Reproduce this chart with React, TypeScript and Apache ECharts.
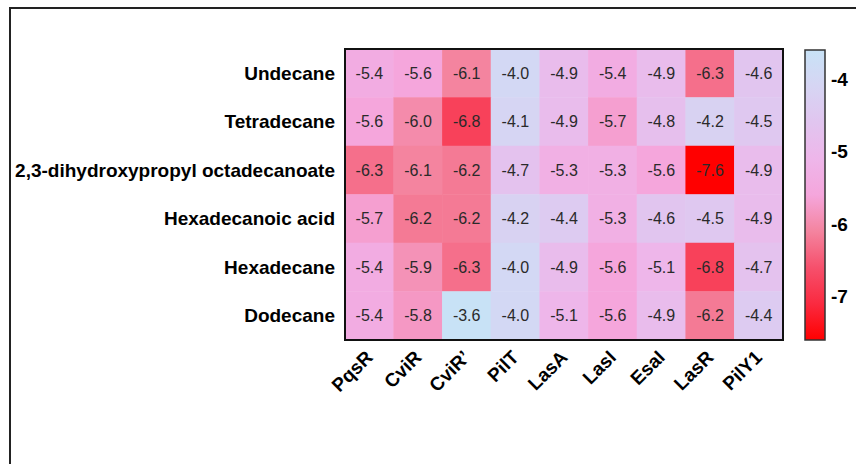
import React, { useEffect, useRef } from "react";
import * as echarts from "echarts";

const receptors = ["PqsR", "CviR", "CviR\u2019", "PilT", "LasA", "LasI", "EsaI", "LasR", "PilY1"];
const compounds = [
  "Undecane",
  "Tetradecane",
  "2,3-dihydroxypropyl octadecanoate",
  "Hexadecanoic acid",
  "Hexadecane",
  "Dodecane",
];

// Docking scores (kcal/mol), one row per compound, one column per receptor
const undecane = [-5.4, -5.6, -6.1, -4.0, -4.9, -5.4, -4.9, -6.3, -4.6];
const tetradecane = [-5.6, -6.0, -6.8, -4.1, -4.9, -5.7, -4.8, -4.2, -4.5];
const dihydroxypropylOctadecanoate = [-6.3, -6.1, -6.2, -4.7, -5.3, -5.3, -5.6, -7.6, -4.9];
const hexadecanoicAcid = [-5.7, -6.2, -6.2, -4.2, -4.4, -5.3, -4.6, -4.5, -4.9];
const hexadecane = [-5.4, -5.9, -6.3, -4.0, -4.9, -5.6, -5.1, -6.8, -4.7];
const dodecane = [-5.4, -5.8, -3.6, -4.0, -5.1, -5.6, -4.9, -6.2, -4.4];

const scoreRows = [undecane, tetradecane, dihydroxypropylOctadecanoate, hexadecanoicAcid, hexadecane, dodecane];

const scaleMin = -7.6;
const scaleMax = -3.6;
const scaleTicks = [-4, -5, -6, -7];

// Colour ramp from the lowest (strongest) score to the highest
const rampColors = [
  "#ff0000",
  "#fa2a40",
  "#f6506c",
  "#f4849f",
  "#f5a6dc",
  "#eeb6ea",
  "#e1c5ef",
  "#d6d5f3",
  "#c8e2f6",
];

const FONT = "'Liberation Sans', Arial, sans-serif";

export default function App() {
  const ref = useRef<HTMLDivElement>(null);

  useEffect(() => {
    if (!ref.current) return;
    const chart = echarts.init(ref.current, undefined, { renderer: "svg" });

    const cells: number[][] = [];
    scoreRows.forEach((row, r) => {
      row.forEach((v, c) => cells.push([c, r, v]));
    });

    const gradientStops = rampColors
      .slice()
      .reverse()
      .map((color, i) => ({ offset: i / (rampColors.length - 1), color }));

    chart.setOption({
      animation: false,
      backgroundColor: "#ffffff",
      textStyle: { fontFamily: FONT },
      graphic: [
        {
          type: "rect",
          z: -10,
          shape: { x: 10, y: 8, width: 900, height: 520 },
          style: { fill: "none", stroke: "#222", lineWidth: 2 },
        },
      ],
      grid: [
        {
          left: 345,
          top: 49,
          width: 438,
          height: 291,
          show: true,
          z: 5,
          borderColor: "#111",
          borderWidth: 2,
          backgroundColor: "transparent",
        },
        {
          left: 805,
          top: 50,
          width: 20,
          height: 290,
          show: true,
          z: 5,
          borderColor: "#333",
          borderWidth: 1.5,
          backgroundColor: "transparent",
        },
      ],
      xAxis: [
        {
          type: "category",
          gridIndex: 0,
          data: receptors,
          axisLine: { show: false },
          axisTick: { show: false },
          splitLine: { show: false },
          axisLabel: {
            rotate: 45,
            margin: 14,
            padding: [0, 0, 0, 0],
            fontSize: 19,
            fontWeight: "bold",
            color: "#000",
            fontFamily: FONT,
          },
        },
        {
          type: "value",
          gridIndex: 1,
          min: 0,
          max: 1,
          show: false,
        },
      ],
      yAxis: [
        {
          type: "category",
          gridIndex: 0,
          data: compounds,
          inverse: true,
          axisLine: { show: false },
          axisTick: { show: false },
          splitLine: { show: false },
          axisLabel: {
            margin: 10,
            fontSize: 19,
            fontWeight: "bold",
            color: "#000",
            fontFamily: FONT,
          },
        },
        {
          type: "value",
          gridIndex: 1,
          position: "right",
          min: scaleMin,
          max: scaleMax,
          axisLine: { show: false },
          splitLine: { show: false },
          axisTick: {
            show: true,
            inside: false,
            length: 4,
            customValues: scaleTicks,
            lineStyle: { color: "#333", width: 1.5 },
          },
          axisLabel: {
            show: true,
            margin: 6,
            fontSize: 19,
            fontWeight: "bold",
            color: "#000",
            fontFamily: FONT,
            customValues: scaleTicks,
            formatter: (v: number) => String(v),
          },
        },
        {
          type: "value",
          gridIndex: 1,
          position: "left",
          min: scaleMin,
          max: scaleMax,
          axisLine: { show: false },
          splitLine: { show: false },
          axisLabel: { show: false },
          axisTick: {
            show: true,
            inside: true,
            length: 4,
            customValues: scaleTicks,
            lineStyle: { color: "#333", width: 1.5 },
          },
        },
      ],
      visualMap: {
        show: false,
        type: "continuous",
        min: scaleMin,
        max: scaleMax,
        seriesIndex: 0,
        dimension: 2,
        inRange: { color: rampColors },
      },
      series: [
        {
          type: "heatmap",
          xAxisIndex: 0,
          yAxisIndex: 0,
          data: cells,
          z: 1,
          label: {
            show: true,
            color: "#2a2a2a",
            fontSize: 16,
            fontFamily: FONT,
            formatter: (p: any) => (p.value[2] as number).toFixed(1),
          },
          itemStyle: { borderWidth: 0 },
          emphasis: { disabled: true },
        },
        {
          type: "custom",
          xAxisIndex: 1,
          yAxisIndex: 1,
          z: 1,
          data: [[0, scaleMax, 1, scaleMin]],
          renderItem: (_params: any, api: any) => {
            const p0 = api.coord([api.value(0), api.value(1)]);
            const p1 = api.coord([api.value(2), api.value(3)]);
            return {
              type: "rect",
              shape: { x: p0[0], y: p0[1], width: p1[0] - p0[0], height: p1[1] - p0[1] },
              style: {
                fill: new echarts.graphic.LinearGradient(0, 0, 0, 1, gradientStops),
              },
            };
          },
          silent: true,
        },
      ],
    });

    return () => chart.dispose();
  }, []);

  return (
    <div
      ref={ref}
      style={{ position: "absolute", left: 0, top: 0, width: 856, height: 464 }}
    />
  );
}
